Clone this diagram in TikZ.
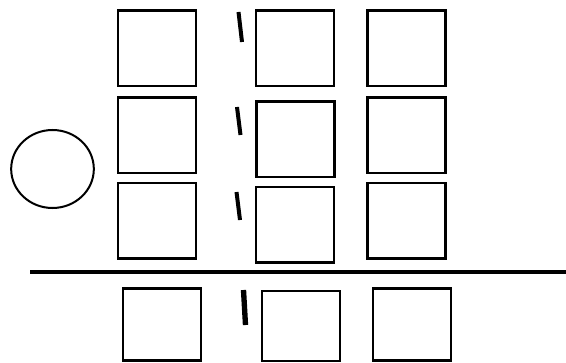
\documentclass[tikz,border=0pt]{standalone}
\usetikzlibrary{shapes.geometric}
\begin{document}
\begin{tikzpicture}[x=0.75pt,y=-0.75pt,
  box/.style={draw, line width=2pt, inner sep=0pt, minimum width=58.5pt, minimum height=56.5pt},
  tick/.style={line width=3pt},
  rule/.style={line width=3.3pt}]
\useasboundingbox[fill=white] (0,0) rectangle (566,363);
% top block
\node[box] (a1) at (157,48.5) {};
\node[box] (a2) at (157,135.5) {};
\node[box] (a3) at (157,220.5) {};
\node[box] (b1) at (295,48.5) {};
\node[box] (b2) at (295.5,139.5) {};
\node[box] (b3) at (295,224.5) {};
\node[box] (c1) at (406.5,48.5) {};
\node[box] (c2) at (406.5,135.5) {};
\node[box] (c3) at (406.5,220.5) {};
% circle
\node[draw, ellipse, line width=1.5pt, minimum width=62pt, minimum height=58.5pt, inner sep=0pt] (o) at (52.5,169) {};
% ticks
\draw[tick] (238.5,12) -- (242,42);
\draw[tick] (237,107) -- (240.5,135);
\draw[tick] (236.5,192) -- (240,220);
\draw[line width=4pt] (243.5,290) -- (245.5,325);
% rule
\draw[rule] (30,272) -- (566,272);
% bottom row
\node[box, minimum height=54pt] (d1) at (162,324.5) {};
\node[box, minimum height=52.5pt] (d2) at (301,326) {};
\node[box, minimum height=54pt] (d3) at (412,324.5) {};
\end{tikzpicture}
\end{document}
